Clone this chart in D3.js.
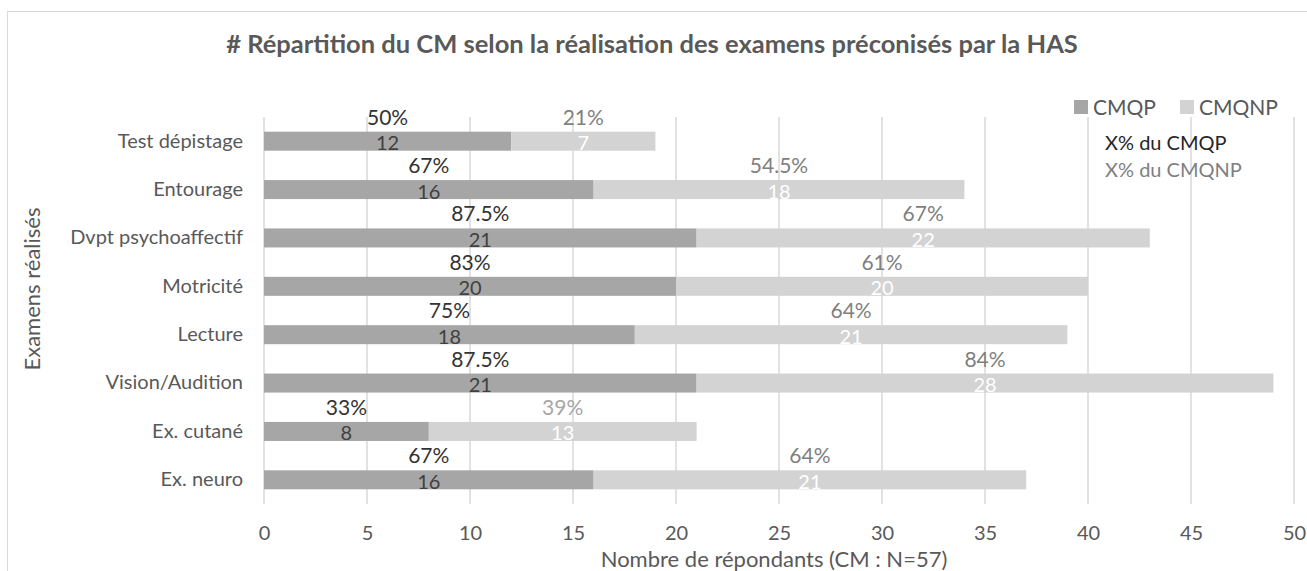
<!DOCTYPE html>
<html>
<head>
<meta charset="utf-8">
<script src="https://cdn.jsdelivr.net/npm/d3@7"></script>
<style>
  body { margin: 0; background: #fff; }
  svg text { font-family: Lato, "Open Sans", sans-serif; }
</style>
</head>
<body>
<div id="chart"></div>
<script>
// data
var categories = ["Test dépistage", "Entourage", "Dvpt psychoaffectif", "Motricité",
                  "Lecture", "Vision/Audition", "Ex. cutané", "Ex. neuro"];
var cmqp = [12, 16, 21, 20, 18, 21, 8, 16];
var cmqnp = [7, 18, 22, 20, 21, 28, 13, 21];
var pctCmqp = ["50%", "67%", "87.5%", "83%", "75%", "87.5%", "33%", "67%"];
var pctCmqnp = ["21%", "54.5%", "67%", "61%", "64%", "84%", "39%", "64%"];
var xTicks = [0, 5, 10, 15, 20, 25, 30, 35, 40, 45, 50];
var seriesNames = ["CMQP", "CMQNP"];

(function () {
    var W = 1307, H = 571;
    var m = { left: 264, right: 1294, top: 117, bottom: 504 };

    var svg = d3.select("#chart").append("svg").attr("width", W).attr("height", H);

    // chart border
    svg.append("rect").attr("x", 7.5).attr("y", 11.5).attr("width", W + 20).attr("height", H + 20)
        .attr("fill", "none").attr("stroke", "#d9d9d9");

    var x = d3.scaleLinear().domain([0, 50]).range([m.left, m.right]);
    var y = d3.scaleBand().domain(categories).range([m.top, m.bottom]).paddingInner(0.607).paddingOuter(0.3035);

    // grid
    svg.append("g").selectAll("line").data(xTicks).enter().append("line")
        .attr("x1", function (d) { return x(d); }).attr("x2", function (d) { return x(d); })
        .attr("y1", m.top).attr("y2", m.bottom)
        .attr("stroke", "#d9d9d9").attr("stroke-width", 1.5);

    // x axis labels
    var xAxis = d3.axisBottom(x).tickValues(xTicks).tickSize(0).tickPadding(0);
    var gx = svg.append("g").attr("transform", "translate(0," + (m.bottom + 22) + ")").call(xAxis);
    gx.select(".domain").remove();
    gx.selectAll("text").attr("font-size", 20).attr("fill", "#595959")
        .attr("font-family", "Lato, sans-serif");

    // y axis labels
    var yAxis = d3.axisLeft(y).tickSize(0).tickPadding(21);
    var gy = svg.append("g").attr("transform", "translate(" + m.left + ",0)").call(yAxis);
    gy.select(".domain").remove();
    gy.selectAll("text").attr("font-size", 20).attr("fill", "#595959")
        .attr("font-family", "Lato, sans-serif");

    var rows = categories.map(function (c, i) {
        return { cat: c, a: cmqp[i], b: cmqnp[i], pa: pctCmqp[i], pb: pctCmqnp[i] };
    });

    var bh = y.bandwidth();
    var g = svg.append("g").selectAll("g").data(rows).enter().append("g");

    // CMQP bar
    g.append("rect").attr("x", x(0)).attr("y", function (d) { return y(d.cat); })
        .attr("width", function (d) { return x(d.a) - x(0); }).attr("height", bh)
        .attr("fill", "#a6a6a6");
    // CMQNP bar
    g.append("rect").attr("x", function (d) { return x(d.a); }).attr("y", function (d) { return y(d.cat); })
        .attr("width", function (d) { return x(d.a + d.b) - x(d.a); }).attr("height", bh)
        .attr("fill", "#d3d3d3");

    // counts inside bars
    g.append("text").attr("x", function (d) { return x(d.a / 2); })
        .attr("y", function (d) { return y(d.cat) + bh / 2 + 9; })
        .attr("text-anchor", "middle").attr("font-size", 20).attr("fill", "#404040")
        .text(function (d) { return d.a; });
    g.append("text").attr("x", function (d) { return x(d.a + d.b / 2); })
        .attr("y", function (d) { return y(d.cat) + bh / 2 + 9; })
        .attr("text-anchor", "middle").attr("font-size", 20).attr("fill", "#ffffff")
        .text(function (d) { return d.b; });

    // percentages above bars
    g.append("text").attr("x", function (d) { return x(d.a / 2); })
        .attr("y", function (d) { return y(d.cat) - 7; })
        .attr("text-anchor", "middle").attr("font-size", 21).attr("fill", "#333333")
        .text(function (d) { return d.pa; });
    g.append("text").attr("x", function (d) { return x(d.a + d.b / 2); })
        .attr("y", function (d) { return y(d.cat) - 7; })
        .attr("text-anchor", "middle").attr("font-size", 21)
        .attr("fill", function (d) { return d.cat === "Ex. cutané" ? "#a6a6a6" : "#7f7f7f"; })
        .text(function (d) { return d.pb; });

    // title
    svg.append("text").attr("x", 652).attr("y", 53).attr("text-anchor", "middle")
        .attr("font-size", 25.5).attr("font-weight", "bold").attr("fill", "#595959")
        .text("# Répartition du CM selon la réalisation des examens préconisés par la HAS");

    // axis titles
    svg.append("text").attr("x", 774).attr("y", 567).attr("text-anchor", "middle")
        .attr("font-size", 22).attr("fill", "#595959")
        .text("Nombre de répondants (CM : N=57)");
    svg.append("text").attr("transform", "translate(40,289) rotate(-90)").attr("text-anchor", "middle")
        .attr("font-size", 22).attr("fill", "#595959")
        .text("Examens réalisés");

    // legend
    var legColors = ["#a6a6a6", "#d3d3d3"];
    var legX = [1074, 1180];
    var leg = svg.append("g").selectAll("g").data(seriesNames).enter().append("g")
        .attr("transform", function (d, i) { return "translate(" + legX[i] + ",100)"; });
    leg.append("rect").attr("width", 14).attr("height", 14)
        .attr("fill", function (d, i) { return legColors[i]; });
    leg.append("text").attr("x", 19).attr("y", 15).attr("font-size", 21).attr("fill", "#595959")
        .text(function (d) { return d; });

    svg.append("text").attr("x", 1105).attr("y", 150).attr("font-size", 20).attr("fill", "#262626")
        .text("X% du CMQP");
    svg.append("text").attr("x", 1105).attr("y", 177).attr("font-size", 20).attr("fill", "#7f7f7f")
        .text("X% du CMQNP");
})();
</script>
</body>
</html>
